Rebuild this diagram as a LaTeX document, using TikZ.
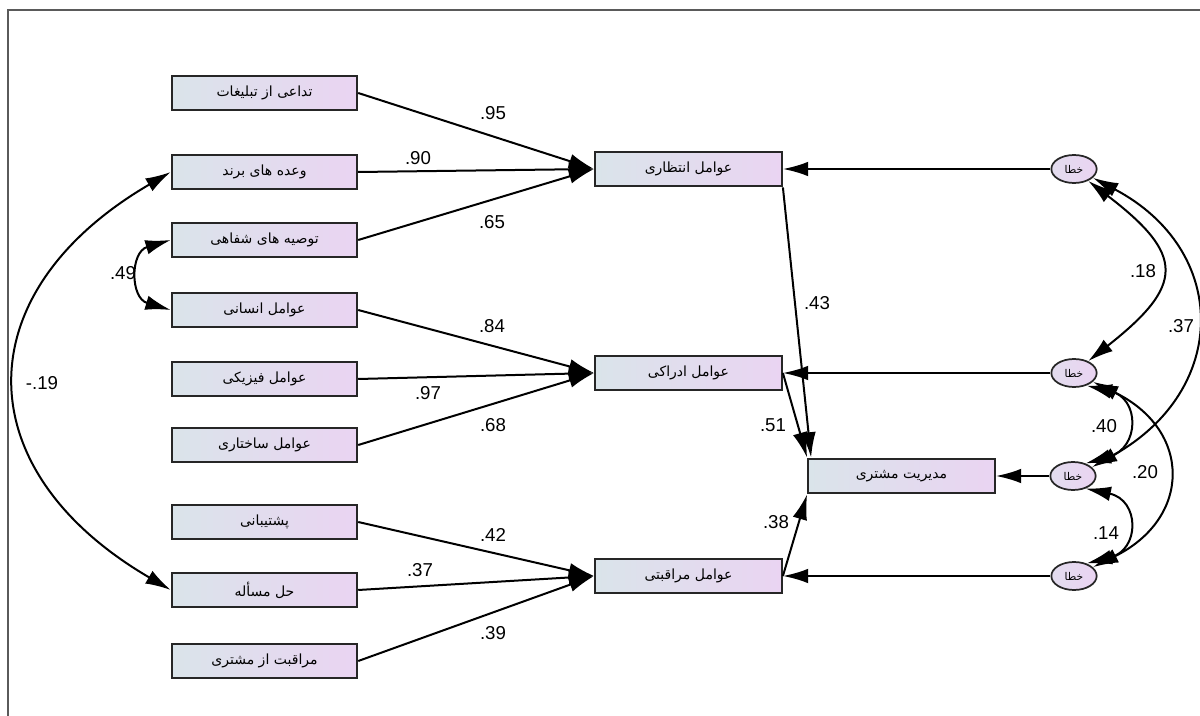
\documentclass[tikz,border=0pt]{standalone}
\usepackage{fontspec}
\setmainfont{Liberation Sans}
\newfontfamily\fa[Script=Arabic]{DejaVu Sans}
\TeXXeTstate=1
\usetikzlibrary{arrows.meta,shapes.geometric}
\definecolor{boxL}{RGB}{218,228,234}
\definecolor{boxR}{RGB}{234,212,242}
\definecolor{frame}{RGB}{90,90,90}
\tikzset{
  box/.style={draw=black!85, line width=1.6pt, left color=boxL, right color=boxR,
    minimum width=139pt, minimum height=26pt, inner sep=0pt,
    font=\fa\fontsize{10.5}{12}\selectfont},
  midbox/.style={box, minimum width=140pt},
  err/.style={ellipse, draw=black!85, line width=1.3pt, left color=boxL!50!boxR, right color=boxR,
    minimum width=34pt, minimum height=21pt, inner sep=0pt,
    font=\fa\fontsize{8}{9}\selectfont},
  arr/.style={line width=1.5pt, -{Latex[length=19pt,width=11pt]}},
  cov/.style={line width=1.5pt, {Latex[length=19pt,width=11pt]}-{Latex[length=19pt,width=11pt]}},
  lab/.style={font=\fontsize{14}{16}\selectfont, inner sep=0pt}
}
\begin{document}
\begin{tikzpicture}[x=0.75pt,y=-0.75pt]
\useasboundingbox (0,0) rectangle (1200,716);
\draw[frame, line width=1.5pt] (8,716) -- (8,10) -- (1200,10);

% left indicator boxes
\node[box] (b1) at (264.5,93)  {\beginR تداعی از تبلیغات\endR};
\node[box] (b2) at (264.5,172) {\beginR وعده های برند\endR};
\node[box] (b3) at (264.5,240) {\beginR توصیه های شفاهی\endR};
\node[box] (b4) at (264.5,310) {\beginR عوامل انسانی\endR};
\node[box] (b5) at (264.5,379) {\beginR عوامل فیزیکی\endR};
\node[box] (b6) at (264.5,445) {\beginR عوامل ساختاری\endR};
\node[box] (b7) at (264.5,522) {\beginR پشتیبانی\endR};
\node[box] (b8) at (264.5,590) {\beginR حل مسأله\endR};
\node[box] (b9) at (264.5,661) {\beginR مراقبت از مشتری\endR};

% middle factor boxes
\node[midbox] (m1) at (688.5,169) {\beginR عوامل انتظاری\endR};
\node[midbox] (m2) at (688.5,373) {\beginR عوامل ادراکی\endR};
\node[midbox] (m3) at (688.5,576) {\beginR عوامل مراقبتی\endR};

% outcome
\node[midbox] (out) at (901.5,476) {\beginR مدیریت مشتری\endR};

% errors
\node[err] (e1) at (1074,169) {\beginR خطا\endR};
\node[err] (e2) at (1074,373) {\beginR خطا\endR};
\node[err] (e3) at (1073,476) {\beginR خطا\endR};
\node[err] (e4) at (1074,576) {\beginR خطا\endR};

% paths indicators -> factors
\draw[arr] (b1.east) -- (m1.west);
\draw[arr] (b2.east) -- (m1.west);
\draw[arr] (b3.east) -- (m1.west);
\draw[arr] (b4.east) -- (m2.west);
\draw[arr] (b5.east) -- (m2.west);
\draw[arr] (b6.east) -- (m2.west);
\draw[arr] (b7.east) -- (m3.west);
\draw[arr] (b8.east) -- (m3.west);
\draw[arr] (b9.east) -- (m3.west);

% factors -> outcome
\coordinate (o1) at ([xshift=3pt]out.north west);
\draw[arr] (m1.south east) -- (o1);
\draw[arr] (m2.east) -- (out.north west);
\draw[arr] (m3.east) -- (out.south west);

% errors -> endogenous
\draw[arr] (e1.west) -- (m1.east);
\draw[arr] (e2.west) -- (m2.east);
\draw[arr] (e3.west) -- (out.east);
\draw[arr] (e4.west) -- (m3.east);

% covariances left
\draw[cov] (b2.west) .. controls (-35,292) and (-35,470) .. (b8.west);
\draw[cov] (b3.west) .. controls (130,252) and (130,298) .. (b4.west);

% covariances right
\draw[cov] (e1.-40) .. controls (1185,255) and (1185,285) .. (e2.40);
\draw[cov] (e1.-25) .. controls (1230,250) and (1230,390) .. (e3.25);
\draw[cov] (e2.-45) .. controls (1140,398) and (1140,448) .. (e3.45);
\draw[cov] (e2.-25) .. controls (1192,430) and (1192,518) .. (e4.25);
\draw[cov] (e3.-45) .. controls (1140,500) and (1140,550) .. (e4.45);

% labels
\node[lab] (l1) at (493,113) {.95};
\node[lab] (l2) at (418,158) {.90};
\node[lab] (l3) at (492,222) {.65};
\node[lab] (l4) at (492,326) {.84};
\node[lab] (l5) at (428,393) {.97};
\node[lab] (l6) at (493,425) {.68};
\node[lab] (l7) at (493,535) {.42};
\node[lab] (l8) at (420,570) {.37};
\node[lab] (l9) at (493,633) {.39};
\node[lab] (l10) at (817,303) {.43};
\node[lab] (l11) at (773,425) {.51};
\node[lab] (l12) at (776,522) {.38};
\node[lab] (l13) at (1143,271) {.18};
\node[lab] (l14) at (1181,326) {.37};
\node[lab] (l15) at (1104,426) {.40};
\node[lab] (l16) at (1145,472) {.20};
\node[lab] (l17) at (1106,533) {.14};
\node[lab] (l18) at (123,273) {.49};
\node[lab] (l19) at (42,383) {-.19};
\end{tikzpicture}
\end{document}
